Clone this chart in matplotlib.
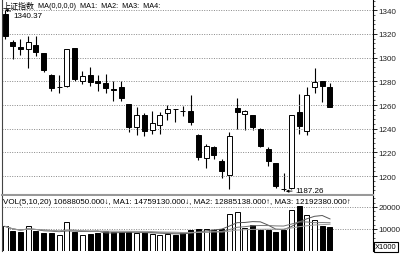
import numpy as np
import pandas as pd
import matplotlib
matplotlib.use("Agg")
import matplotlib.pyplot as plt
from matplotlib.ticker import MultipleLocator

plt.rcParams['font.family'] = ['Liberation Sans', 'Noto Sans CJK SC', 'DejaVu Sans']

# daily candles
opens = [1337, 1313, 1309, 1307, 1311, 1304, 1285.7, 1275.5, 1276, 1308,
         1280.3, 1285.4, 1280.5, 1278.5, 1273.4, 1275, 1260.5, 1241.3, 1252, 1239,
         1243.5, 1253, 1256.8, 1255.4, 1255.3, 1235, 1215.4, 1225, 1213, 1201.3,
         1257.5, 1252.2, 1252, 1239.8, 1223, 1211, 1189.5, 1190, 1254, 1238.4,
         1275.5, 1280, 1275.5]
highs = [1340.37, 1315, 1316, 1318, 1318, 1304, 1286.5, 1285, 1307, 1308,
         1289, 1292, 1285, 1286, 1280, 1280, 1260.5, 1258, 1253, 1255,
         1254, 1260.3, 1257, 1259.5, 1268.5, 1235.6, 1227, 1225.7, 1214.5, 1237,
         1265.7, 1255.5, 1252, 1240.5, 1225, 1211, 1202.5, 1252, 1269, 1275,
         1291.3, 1280, 1278.4]
lows = [1315.5, 1299, 1302, 1291, 1301, 1288, 1271.5, 1270, 1275, 1280.5,
        1277.8, 1276, 1271.5, 1270, 1263.5, 1263.5, 1237.5, 1235, 1234, 1235.6,
        1235.6, 1247.7, 1246, 1251, 1243, 1214, 1206.7, 1214.5, 1198.5, 1189.2,
        1239.5, 1239, 1239, 1224.5, 1208.4, 1190, 1187.26, 1189.5, 1235.6, 1234.8,
        1270, 1263, 1258.6]
closes = [1318, 1309.5, 1307, 1313, 1304.5, 1290, 1274.5, 1275, 1307, 1282,
          1284.8, 1279.7, 1279, 1274, 1273, 1266, 1241.3, 1251.6, 1238.5, 1244.6,
          1252, 1256.7, 1256.6, 1255.2, 1245.5, 1216, 1225.2, 1218, 1204, 1234.2,
          1254.5, 1255, 1241.3, 1225.2, 1213, 1192, 1189, 1252, 1242, 1268.8,
          1279.2, 1276, 1258.6]
prev_close0 = 1310.0

# volume in thousands
vols = [11200, 8900, 8450, 11500, 8900, 8200, 8200, 7100, 13200, 8600,
        7400, 7900, 8200, 8900, 8600, 8450, 8600, 8200, 8600, 7900,
        7400, 7700, 7400, 8600, 9700, 10000, 10000, 9700, 10200, 16800,
        17700, 10450, 11650, 9700, 9400, 8450, 9400, 18450, 20300, 16500,
        14200, 11200, 10700]

price_ticks = [1200, 1220, 1240, 1260, 1280, 1300, 1320, 1340]
vol_ticks = [10000, 20000]
vol_text = "VOL(5,10,20) 10688050.000\u2193, MA1: 14759130.000\u2193, MA2: 12885138.000\u2191, MA3: 12192380.000\u2191"

W, H = 400, 255
fig = plt.figure(figsize=(4, 2.55), dpi=100)

def px_box(x0, y0, x1, y1):
    return [x0 / W, 1 - y1 / H, (x1 - x0) / W, (y1 - y0) / H]

ax = fig.add_axes(px_box(2, 0, 373, 196))
ax2 = fig.add_axes(px_box(2, 197, 373, 252))

x = np.arange(len(opens))
o = np.array(opens); c = np.array(closes)
up = c > o
body_w = 0.65

# candles
ax.vlines(x, lows, highs, color='black', lw=0.8, zorder=1)
ax.bar(x, np.abs(c - o), bottom=np.minimum(o, c), width=body_w,
       color=np.where(up, 'white', 'black'), edgecolor='black', lw=0.7, zorder=2)

ax.set_xlim(-0.39, 47.56)
ax.set_ylim(1184.1, 1349.5)
ax.yaxis.tick_right()
ax.set_yticks(price_ticks)
ax.yaxis.set_minor_locator(MultipleLocator(4))
ax.set_xticks([])
ax.tick_params(axis='y', which='major', direction='out', length=3, width=0.7,
               labelsize=5.8, pad=1, colors='#222')
ax.tick_params(axis='y', which='minor', direction='out', length=1.5, width=0.6, colors='#444')
ax.grid(axis='y', which='major', linestyle=(0, (1, 1.5)), color='#888', lw=0.7)
ax.spines['top'].set_visible(False)
ax.spines['left'].set_color('#444')
ax.spines['bottom'].set_color('#999')
ax.spines['bottom'].set_linewidth(1.5)
ax.spines['right'].set_color('black')

ax.annotate('1340.37', xy=(0, highs[0]), xytext=(6, -4), textcoords='offset points',
            fontsize=5.8, va='center', ha='left',
            arrowprops=dict(arrowstyle='-|>', lw=0.6, color='black', mutation_scale=4,
                            shrinkA=0, shrinkB=0))
ax.annotate('1187.26', xy=(36.3, lows[36]), xytext=(6.5, 0.5), textcoords='offset points',
            fontsize=5.8, va='center', ha='left',
            arrowprops=dict(arrowstyle='-|>', lw=0.6, color='black', mutation_scale=4,
                            shrinkA=0, shrinkB=0))

# volume bars, coloured by close vs previous close
prev = np.concatenate([[prev_close0], c[:-1]])
vol_up = c >= prev
ax2.bar(x, vols, width=body_w, color=np.where(vol_up, 'white', 'black'),
        edgecolor='black', lw=0.7, zorder=2)
vs = pd.Series(vols, dtype=float)
for n, col in zip([5, 10, 20], ['#555555', '#777777', '#999999']):
    ax2.plot(x, vs.rolling(n, min_periods=1).mean(), color=col, lw=0.7, zorder=3)

ax2.set_xlim(-0.39, 47.56)
ax2.set_ylim(0, 25000)
ax2.yaxis.tick_right()
ax2.set_yticks(vol_ticks)
ax2.yaxis.set_minor_locator(MultipleLocator(2000))
ax2.set_xticks([])
ax2.tick_params(axis='y', which='major', direction='out', length=3, width=0.7,
                labelsize=5.8, pad=1, colors='#222')
ax2.tick_params(axis='y', which='minor', direction='out', length=1.5, width=0.6, colors='#444')
ax2.grid(axis='y', which='major', linestyle=(0, (1, 1.5)), color='#888', lw=0.7)
ax2.spines['top'].set_visible(False)
ax2.spines['bottom'].set_visible(False)
ax2.spines['left'].set_color('#444')
ax2.spines['right'].set_color('black')

fig.text(3 / W, 1 - 7 / H, '上证指数', fontsize=5.8, va='center', ha='left')
fig.text(38 / W, 1 - 7 / H, 'MA(0,0,0,0)  MA1:  MA2:  MA3:  MA4:', fontsize=5.2,
         va='center', ha='left')
fig.text(3 / W, 1 - 202.5 / H, vol_text, fontsize=5.75, va='center', ha='left')
fig.text(386 / W, 1 - 248 / H, 'X1000', fontsize=5.4, va='center', ha='center',
         bbox=dict(boxstyle='square,pad=0.15', fc='white', ec='black', lw=0.8))

fig.savefig('out.png', dpi=100)
